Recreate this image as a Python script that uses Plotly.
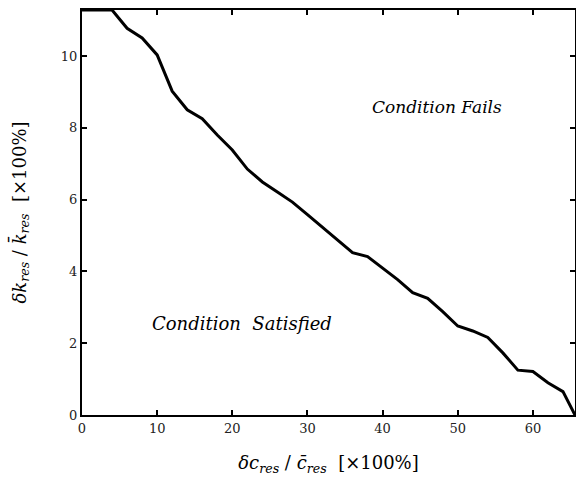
import plotly.graph_objects as go

dc = [0, 2, 4, 6, 8, 10, 12, 14, 16, 18, 20, 22, 24, 26, 28, 30, 32, 34, 36, 38,
      40, 42, 44, 46, 48, 50, 52, 54, 56, 58, 60, 62, 64, 65.6]
dk = [11.28, 11.28, 11.28, 10.77, 10.50, 10.03, 9.02, 8.50, 8.25, 7.80, 7.38, 6.85,
      6.49, 6.21, 5.93, 5.58, 5.22, 4.86, 4.52, 4.41, 4.08, 3.77, 3.41, 3.25, 2.88,
      2.48, 2.34, 2.16, 1.73, 1.25, 1.21, 0.90, 0.65, 0.0]
xticks = [0, 10, 20, 30, 40, 50, 60]
yticks = [0, 2, 4, 6, 8, 10]

font = "DejaVu Serif"

fig = go.Figure()
fig.add_trace(go.Scatter(x=dc, y=dk, mode="lines", cliponaxis=False,
                         line=dict(color="black", width=3), showlegend=False))

fig.add_annotation(x=47.2, y=8.58, text="<i>Condition Fails</i>", showarrow=False,
                   font=dict(family=font, size=17, color="black"))
fig.add_annotation(x=21.3, y=2.56, text="<i>Condition  Satisfied</i>", showarrow=False,
                   font=dict(family=font, size=18, color="black"))

axis_common = dict(showgrid=False, zeroline=False, showline=True, linecolor="black",
                   linewidth=2, mirror="ticks", ticks="inside", ticklen=5,
                   tickwidth=1.5, tickcolor="black", automargin=False,
                   tickfont=dict(family=font, size=13, color="#222"))

fig.update_xaxes(range=[0, 65.6], tickvals=xticks, **axis_common,
                 title=dict(text="<i>δc</i><sub><i>res</i></sub> / <i>c̄</i><sub><i>res</i></sub>  [×100%]",
                            font=dict(family=font, size=18, color="black"), standoff=22))
fig.update_yaxes(range=[0, 11.28], tickvals=yticks, **axis_common,
                 title=dict(text="<i>δk</i><sub><i>res</i></sub> / <i>k̄</i><sub><i>res</i></sub>  [×100%]",
                            font=dict(family=font, size=18, color="black"), standoff=30))

fig.update_layout(width=576, height=479, plot_bgcolor="white", paper_bgcolor="white",
                  margin=dict(l=82, r=1, t=10, b=64))

fig.write_html("out.html", config={"displayModeBar": False},
               post_script="document.body.style.margin='0';")
